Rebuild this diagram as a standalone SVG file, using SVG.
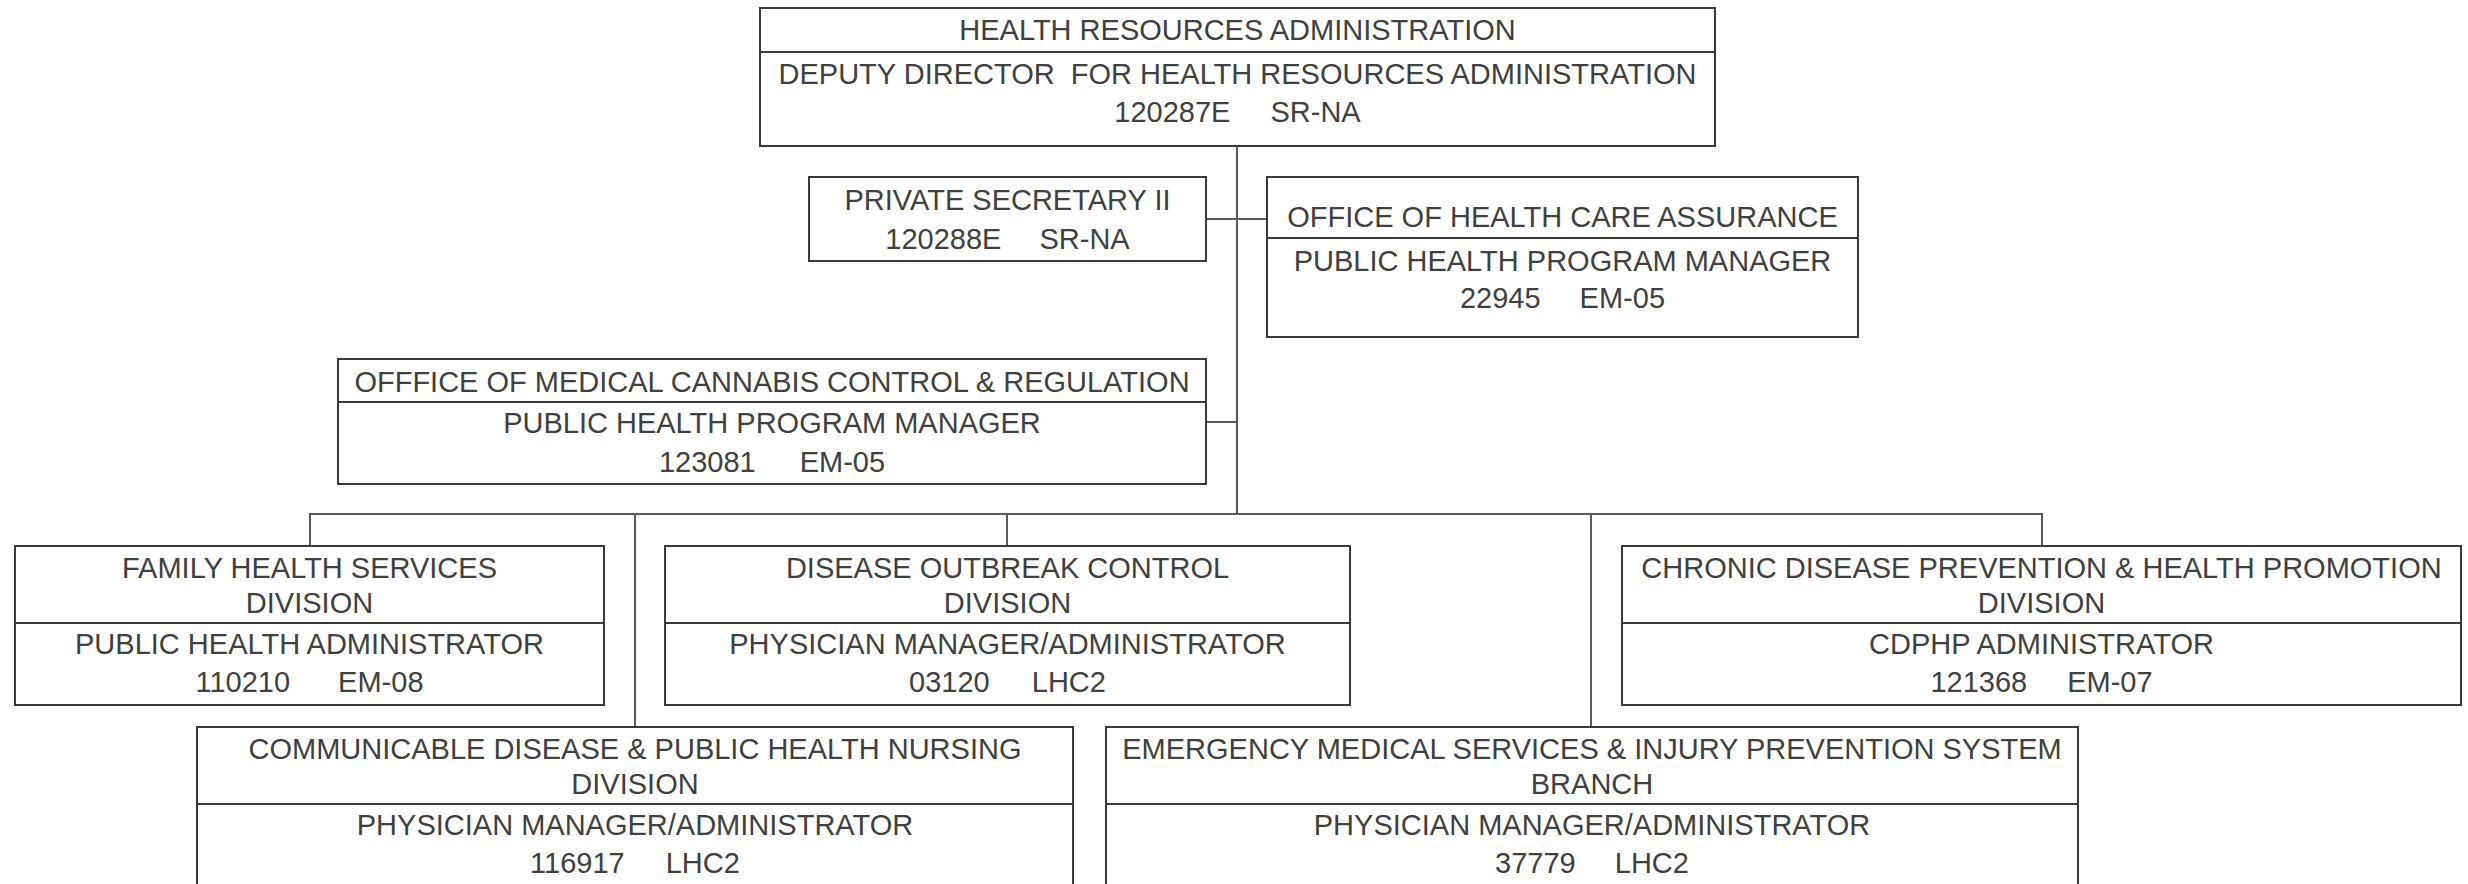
<svg xmlns="http://www.w3.org/2000/svg" width="2468" height="884" viewBox="0 0 2468 884">
<style>
.box{fill:#fff;stroke:#3a3a3a;stroke-width:2}
.div{stroke:#3a3a3a;stroke-width:2}
.con{stroke:#5a5a5a;stroke-width:2;fill:none}
text{font-family:"Liberation Sans",Arial,sans-serif;font-size:29px;fill:#404040;text-anchor:middle;white-space:pre}
</style>
<rect width="2468" height="884" fill="#fff"/>
<g id="connectors">
<line class="con" x1="1237" y1="146" x2="1237" y2="514"/>
<line class="con" x1="1206" y1="219" x2="1267" y2="219"/>
<line class="con" x1="1206" y1="422" x2="1237" y2="422"/>
<line class="con" x1="309" y1="514" x2="2043" y2="514"/>
<line class="con" x1="310" y1="514" x2="310" y2="546"/>
<line class="con" x1="1007" y1="514" x2="1007" y2="546"/>
<line class="con" x1="2042" y1="514" x2="2042" y2="546"/>
<line class="con" x1="635" y1="514" x2="635" y2="727"/>
<line class="con" x1="1591" y1="514" x2="1591" y2="727"/>
</g>
<g id="hra">
<rect class="box" x="760" y="8" width="955" height="138"/>
<line class="div" x1="760" y1="52" x2="1715" y2="52"/>
<text x="1237.5" y="40">HEALTH RESOURCES ADMINISTRATION</text>
<text x="1237.5" y="84">DEPUTY DIRECTOR  FOR HEALTH RESOURCES ADMINISTRATION</text>
<text x="1237.5" y="122">120287E<tspan dx="40">SR-NA</tspan></text>
</g>
<g id="private-secretary">
<rect class="box" x="809" y="177" width="397" height="84"/>
<text x="1007.5" y="210">PRIVATE SECRETARY II</text>
<text x="1007.5" y="249">120288E<tspan dx="38">SR-NA</tspan></text>
</g>
<g id="ohca">
<rect class="box" x="1267" y="177" width="591" height="160"/>
<line class="div" x1="1267" y1="238" x2="1858" y2="238"/>
<text x="1562.5" y="227">OFFICE OF HEALTH CARE ASSURANCE</text>
<text x="1562.5" y="271">PUBLIC HEALTH PROGRAM MANAGER</text>
<text x="1562.5" y="308">22945<tspan dx="39">EM-05</tspan></text>
</g>
<g id="omccr">
<rect class="box" x="338" y="359" width="868" height="125"/>
<line class="div" x1="338" y1="402" x2="1206" y2="402"/>
<text x="772" y="392">OFFFICE OF MEDICAL CANNABIS CONTROL &amp; REGULATION</text>
<text x="772" y="433">PUBLIC HEALTH PROGRAM MANAGER</text>
<text x="772" y="472">123081<tspan dx="44">EM-05</tspan></text>
</g>
<g id="fhsd">
<rect class="box" x="15" y="546" width="589" height="159"/>
<line class="div" x1="15" y1="623" x2="604" y2="623"/>
<text x="309.5" y="578">FAMILY HEALTH SERVICES</text>
<text x="309.5" y="613">DIVISION</text>
<text x="309.5" y="654">PUBLIC HEALTH ADMINISTRATOR</text>
<text x="309.5" y="692">110210<tspan dx="48">EM-08</tspan></text>
</g>
<g id="docd">
<rect class="box" x="665" y="546" width="685" height="159"/>
<line class="div" x1="665" y1="623" x2="1350" y2="623"/>
<text x="1007.5" y="578">DISEASE OUTBREAK CONTROL</text>
<text x="1007.5" y="613">DIVISION</text>
<text x="1007.5" y="654">PHYSICIAN MANAGER/ADMINISTRATOR</text>
<text x="1007.5" y="692">03120<tspan dx="42">LHC2</tspan></text>
</g>
<g id="cdphpd">
<rect class="box" x="1622" y="546" width="839" height="159"/>
<line class="div" x1="1622" y1="623" x2="2461" y2="623"/>
<text x="2041.5" y="578">CHRONIC DISEASE PREVENTION &amp; HEALTH PROMOTION</text>
<text x="2041.5" y="613">DIVISION</text>
<text x="2041.5" y="654">CDPHP ADMINISTRATOR</text>
<text x="2041.5" y="692">121368<tspan dx="40">EM-07</tspan></text>
</g>
<g id="cdphnd">
<rect class="box" x="197" y="727" width="876" height="160"/>
<line class="div" x1="197" y1="804" x2="1073" y2="804"/>
<text x="635" y="759">COMMUNICABLE DISEASE &amp; PUBLIC HEALTH NURSING</text>
<text x="635" y="794">DIVISION</text>
<text x="635" y="835">PHYSICIAN MANAGER/ADMINISTRATOR</text>
<text x="635" y="873">116917<tspan dx="41">LHC2</tspan></text>
</g>
<g id="emsipsb">
<rect class="box" x="1106" y="727" width="972" height="160"/>
<line class="div" x1="1106" y1="804" x2="2078" y2="804"/>
<text x="1592" y="759">EMERGENCY MEDICAL SERVICES &amp; INJURY PREVENTION SYSTEM</text>
<text x="1592" y="794">BRANCH</text>
<text x="1592" y="835">PHYSICIAN MANAGER/ADMINISTRATOR</text>
<text x="1592" y="873">37779<tspan dx="39">LHC2</tspan></text>
</g>
</svg>
